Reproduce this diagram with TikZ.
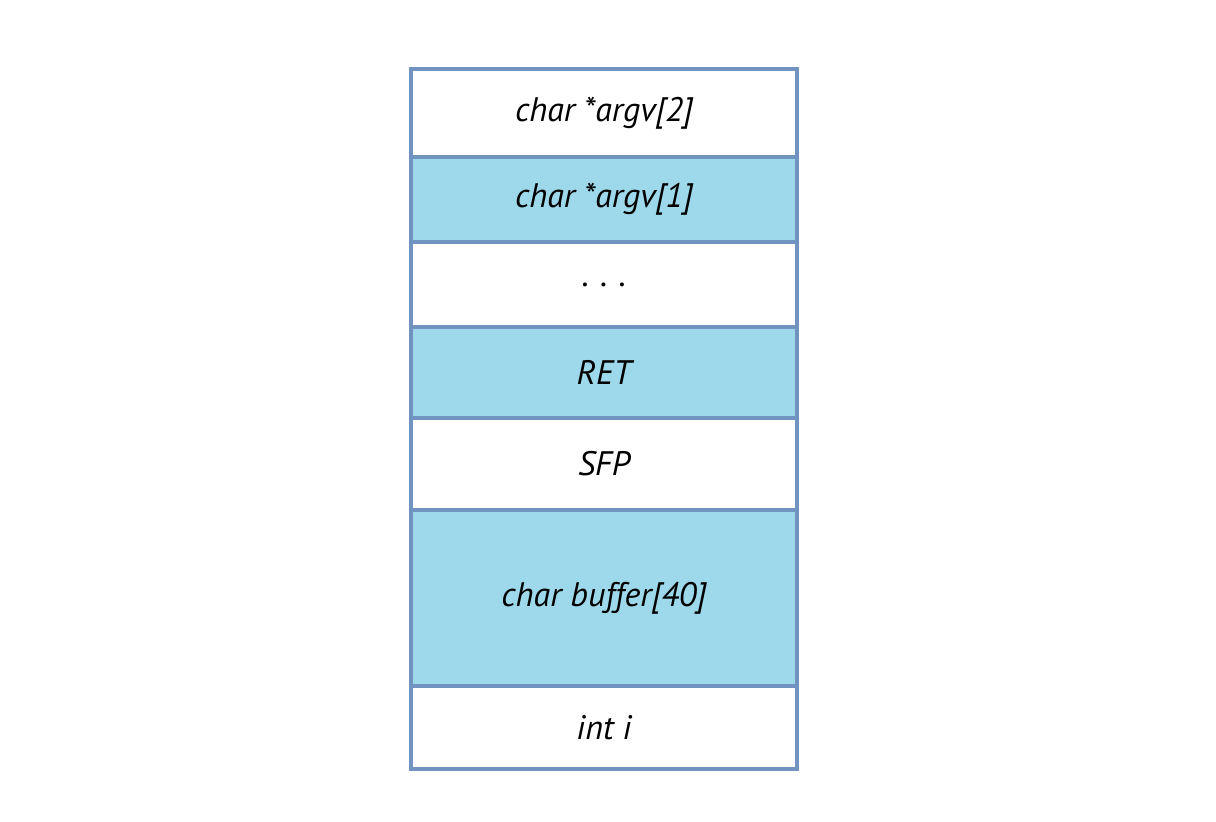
\documentclass[tikz,border=0pt]{standalone}
\usepackage{fontspec}
\setsansfont{PT Sans}
\usetikzlibrary{positioning}

\definecolor{cellblue}{RGB}{157,217,234}
\definecolor{lineblue}{RGB}{113,147,191}

\begin{document}
\begin{tikzpicture}[x=1pt,y=-1pt,node distance=0pt,
  cell/.style={rectangle,draw=lineblue,line width=4.5pt,minimum width=386pt,
    inner sep=0pt,outer sep=0pt,font=\sffamily\itshape\fontsize{34}{40}\selectfont},
  lightcell/.style={cell,fill=white},
  bluecell/.style={cell,fill=cellblue}]

  \useasboundingbox (0,0) rectangle (1216,822);

  % stack frame, top to bottom
  \node[lightcell,minimum height=88pt,anchor=north] (argv2) at (604,69) {char *argv[2]};
  \node[bluecell,minimum height=85pt,below=of argv2] (argv1) {char *argv[1]};
  \node[lightcell,minimum height=85pt,below=of argv1] (dots) {.\,\,.\,\,.};
  \node[bluecell,minimum height=91pt,below=of dots] (ret) {RET};
  \node[lightcell,minimum height=92pt,below=of ret] (sfp) {SFP};
  \node[bluecell,minimum height=176pt,below=of sfp] (buffer) {char buffer[40]};
  \node[lightcell,minimum height=83pt,below=of buffer] (inti) {int i};

\end{tikzpicture}
\end{document}
